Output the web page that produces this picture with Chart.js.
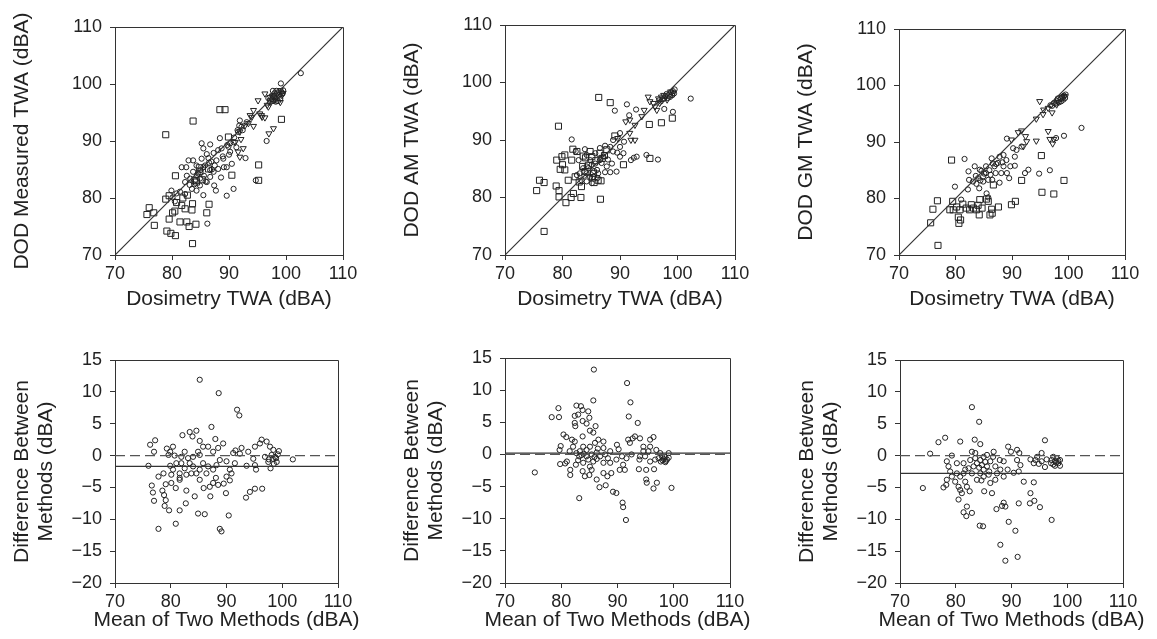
<!DOCTYPE html>
<html>
<head>
<meta charset="utf-8">
<script src="https://cdn.jsdelivr.net/npm/chart.js@4.4.1/dist/chart.umd.min.js"></script>
<style>
  html, body { margin: 0; padding: 0; background: #fff; }
  #wrap { position: relative; width: 1157px; height: 639px; overflow: hidden; }
</style>
</head>
<body>
<div id="wrap"></div>
<script>
// ===== Data =====
const twaTicks = [70, 80, 90, 100, 110];
const diffTicks = [-20, -15, -10, -5, 0, 5, 10, 15];
const meanDiff = [-1.7, 0.2, -2.8];   // solid bias lines, bottom row

const xTitleTop = 'Dosimetry TWA (dBA)';
const xTitleBottom = 'Mean of Two Methods (dBA)';
const yTitlesTop = ['DOD Measured TWA (dBA)', 'DOD AM TWA (dBA)', 'DOD GM TWA (dBA)'];
const yTitleBottom = ['Difference Between', 'Methods (dBA)'];

// top-left: DOD measured vs dosimetry
const p1Circles = [
  [102.6,101.9],[99.1,100.1],[97.7,98.8],[96.6,90.0],[94.7,83.1],[92.9,87.0],[90.8,81.6],[89.6,80.4],
  [86.2,75.5],[87.7,81.3],[85.2,89.6],[86.7,89.4],[88.4,90.5],[83.7,86.6],[82.9,86.6],[82.5,85.4],
  [81.7,85.4],[82.3,82.8],[79.9,81.3],[80.1,80.1],[82.3,80.7],[84.9,82.2],[85.5,80.5],[87.4,82.2],
  [88.6,83.6],[89.6,85.4],[90.5,86.0],[89.0,86.9],[87.8,86.6],[87.3,87.9],[86.1,87.7],[85.2,86.9],
  [84.3,85.7],[85.8,85.7],[86.7,84.9],[88.1,85.1],[88.7,88.7],[89.9,89.0],[90.8,89.8],[91.6,91.6],
  [92.2,92.5],[90.2,88.1],[89.1,85.4],[87.3,84.6],[84.9,83.4],[84.0,83.1],[83.5,81.6],[84.3,81.3],
  [86.1,82.8],[86.7,83.7],[83.2,83.4],[81.4,81.1],[80.5,79.4],[80.8,80.8],[91.3,88.9],[91.9,93.6],
  [93.1,93.3],[88.1,88.4],[87.5,85.7],[85.5,85.4],[84.6,84.3],[83.7,84.6],[85.5,88.7],[91.5,91.9],
  [91.8,92.7],[92.4,91.9],[90.9,90.6],[90.2,89.6],[89.7,89.3],[97.5,97.3],[97.9,97.8],[98.2,96.9],
  [98.5,97.6],[98.8,98.1],[99.2,98.6],[99.4,98.3],[98.0,98.4],[97.2,96.8],[98.6,97.0],[99.0,97.4],
  [97.7,97.0],[96.9,97.5],[98.3,98.8],[99.5,98.9],[86.5,86.2],[87.0,85.0],[85.0,84.9],[83.9,82.4],
  [82.6,83.9],[88.9,87.3],[90.0,87.6],[86.4,87.0],[84.4,84.0],[85.6,83.9],[86.9,86.4],[83.1,82.3],
  [85.9,82.9]
];
const p1Squares = [
  [75.6,77.1],[76.0,78.3],[76.8,77.4],[76.9,75.2],[78.9,91.1],[78.9,79.8],[79.1,74.2],[79.5,80.4],
  [79.5,76.3],[79.8,73.8],[80.1,77.4],[80.6,73.4],[80.6,83.9],[80.5,77.7],[80.8,79.2],[81.4,75.8],
  [81.7,78.7],[81.9,80.0],[82.3,78.1],[82.6,75.8],[83.0,75.0],[82.7,80.5],[83.5,77.9],[83.6,79.0],
  [83.7,93.5],[83.6,72.0],[84.2,75.4],[84.0,83.1],[84.3,82.8],[84.9,84.6],[86.1,77.4],[86.5,78.9],
  [86.4,85.1],[88.4,95.5],[89.3,95.5],[89.9,90.7],[90.5,84.0],[95.2,85.8],[95.2,83.1],[99.2,93.8],
  [84.8,85.3],[85.3,83.2]
];
const p1Triangles = [
  [94.3,95.4],[95.1,97.1],[96.3,98.3],[97.2,97.7],[97.8,98.0],[98.4,98.3],[99.0,98.9],[99.5,98.4],
  [98.1,97.4],[96.9,96.0],[95.7,94.5],[94.3,92.6],[92.8,92.7],[91.9,91.6],[91.1,89.8],[92.5,88.7],
  [91.6,88.1],[91.9,87.2],[97.0,91.3],[97.8,92.2],[93.7,94.5],[99.0,96.8],[95.4,94.8],[97.2,97.1],
  [97.6,97.9],[98.1,97.2],[98.7,98.6],[99.3,98.0],[96.7,96.3],[93.4,93.1],[94.0,94.2],[92.1,90.3],
  [95.8,94.2],[96.3,94.1]
];

// top-middle: DOD AM vs dosimetry
const p2Circles = [
  [102.3,97.2],[99.2,94.9],[97.7,95.4],[96.6,86.6],[94.6,87.4],[92.9,87.1],[92.4,86.9],[91.9,86.5],
  [91.2,96.2],[92.8,95.3],[91.6,94.3],[89.1,95.1],[89.4,84.5],[88.3,84.4],[87.4,84.4],[81.6,90.1],
  [83.9,88.4],[82.3,88.0],[84.8,86.5],[85.7,85.9],[84.5,85.1],[84.2,84.2],[84.8,83.6],[85.1,82.5],
  [86.0,84.8],[86.5,86.5],[86.5,88.6],[87.4,89.0],[88.3,88.8],[88.8,88.0],[90.0,88.8],[90.6,87.7],
  [90.0,87.1],[88.6,85.9],[87.7,85.4],[87.1,87.1],[83.0,84.2],[83.3,83.0],[82.5,83.9],[84.2,82.8],
  [82.8,86.5],[84.2,87.4],[85.7,87.7],[90.7,89.7],[90.0,91.2],[88.8,90.0],[85.4,83.6],[86.2,84.2],
  [84.2,85.4],[85.1,85.7],[83.6,85.1],[97.4,97.1],[97.9,97.6],[98.3,97.3],[98.6,97.9],[98.9,98.3],
  [99.2,98.5],[99.4,98.1],[98.1,98.0],[97.1,96.7],[98.7,97.5],[99.1,97.8],[97.7,97.2],[96.8,96.9],
  [99.5,98.8],[86.8,86.0],[87.9,86.6],[85.5,84.6],[83.8,83.8],[89.5,87.8],[86.1,83.4]
];
const p2Squares = [
  [75.5,81.2],[76.0,83.0],[76.8,82.6],[76.8,74.1],[79.3,92.4],[79.0,86.5],[78.9,82.0],[79.4,81.2],
  [79.4,80.1],[79.9,87.1],[80.4,87.4],[80.0,85.7],[79.6,84.9],[80.4,84.8],[80.6,79.1],[81.0,83.0],
  [81.6,86.5],[81.8,88.4],[81.5,80.0],[81.9,80.7],[82.2,83.6],[82.5,88.0],[83.2,80.0],[83.3,81.9],
  [83.5,85.4],[83.6,87.2],[85.4,84.2],[85.5,82.6],[86.2,83.0],[86.3,97.4],[86.6,79.7],[88.3,96.5],
  [86.5,87.7],[85.1,87.1],[87.7,88.3],[90.6,85.7],[95.1,92.7],[95.2,86.8],[97.2,93.0],[99.1,93.8],
  [89.1,90.7],[84.0,86.9],[84.5,85.6],[85.8,86.4],[86.9,86.8],[83.9,84.5],[85.2,83.4],[86.7,82.9],
  [82.9,82.7],[84.8,88.0],[87.3,87.3]
];
const p2Triangles = [
  [94.9,97.5],[95.2,96.7],[94.2,95.2],[93.8,94.1],[92.6,92.6],[91.7,93.5],[91.0,93.2],[91.7,91.2],
  [92.6,90.0],[91.9,90.0],[95.8,96.4],[96.4,95.2],[96.7,97.2],[97.2,97.5],[89.6,90.3],[96.1,95.8],
  [97.6,97.8],[98.2,97.0],[98.8,98.4],[99.3,98.2],[96.9,96.4]
];

// top-right: DOD GM vs dosimetry
const p3Circles = [
  [102.3,92.5],[99.2,91.1],[97.8,90.7],[96.7,85.0],[94.8,84.4],[92.9,85.1],[92.3,84.5],[90.5,85.8],
  [89.1,90.6],[79.9,82.1],[81.6,87.0],[82.3,84.8],[82.4,83.3],[82.2,81.6],[81.0,79.8],[83.4,85.7],
  [83.6,84.0],[84.3,85.1],[84.2,81.8],[84.9,83.9],[85.4,85.7],[85.8,83.3],[86.2,84.2],[86.4,87.1],
  [86.5,83.3],[87.1,84.5],[87.5,86.3],[87.8,82.8],[88.5,85.7],[88.5,87.7],[89.0,86.8],[89.1,84.5],
  [89.7,85.7],[89.5,83.6],[90.5,87.4],[90.8,88.6],[90.2,88.9],[91.7,89.2],[85.5,80.9],[85.8,80.2],
  [84.9,83.0],[84.0,83.6],[87.8,87.4],[86.9,85.7],[88.1,84.5],[97.4,96.9],[97.9,97.3],[98.3,97.0],
  [98.6,97.6],[98.9,98.0],[99.2,98.2],[99.4,97.8],[98.1,97.7],[97.1,96.4],[98.7,97.2],[99.1,97.5],
  [97.7,96.8],[96.8,96.5],[99.5,98.4],[85.1,84.4],[86.0,85.0],[83.1,83.0],[84.6,84.9],[87.2,86.1],
  [84.4,83.2],[85.4,84.5],[86.6,86.2],[83.7,82.6],[88.3,86.4]
];
const p3Squares = [
  [75.6,75.7],[76.0,78.1],[76.8,79.6],[76.9,71.7],[79.3,86.8],[79.0,78.0],[79.5,79.5],[79.6,78.0],
  [80.2,78.5],[80.5,76.7],[80.6,75.6],[80.9,76.2],[80.8,78.0],[81.3,79.0],[81.9,78.3],[82.5,78.0],
  [82.8,78.9],[83.2,78.3],[83.7,78.0],[84.0,78.8],[84.3,79.8],[84.2,77.1],[84.7,78.3],[85.5,79.9],
  [85.8,79.5],[86.1,77.1],[86.4,78.1],[86.5,77.4],[86.7,82.4],[87.6,78.5],[89.9,78.9],[90.6,79.5],
  [91.7,83.2],[95.2,87.6],[95.3,81.1],[97.4,80.8],[99.2,83.2]
];
const p3Triangles = [
  [94.9,97.2],[95.6,95.7],[94.3,94.1],[95.5,94.9],[97.1,95.2],[96.4,91.9],[96.7,90.5],[97.2,89.7],
  [97.4,90.5],[94.3,90.2],[92.6,90.1],[92.0,89.2],[91.1,91.7],[91.7,92.0],[92.4,91.0],[89.9,90.4],
  [97.9,96.6],[96.4,96.0],[98.2,97.1],[98.8,97.9],[99.3,98.1]
];

// bottom row: difference vs mean (Bland-Altman)
const p4Points = [
  [85.2,11.9],[88.6,9.8],[91.9,7.2],[92.3,6.3],[87.3,4.5],[84.6,3.9],[83.4,3.7],[83.9,3.0],
  [82.1,3.2],[88.0,2.6],[85.2,2.3],[76.3,1.7],[77.2,2.4],[77.0,0.6],[76.0,-1.6],[79.3,1.1],
  [80.4,1.4],[79.9,0.6],[79.6,0.1],[80.7,0.0],[82.5,0.6],[79.9,-1.6],[80.4,-2.2],[77.8,-3.3],
  [78.7,-2.8],[80.1,-3.0],[81.6,-3.5],[76.6,-4.7],[76.8,-5.8],[77.0,-7.1],[78.5,-5.5],[78.8,-6.2],
  [79.1,-7.0],[78.9,-7.9],[79.7,-8.6],[79.1,-4.5],[80.1,-4.3],[80.9,-5.1],[81.6,-3.8],[77.8,-11.5],
  [80.9,-10.7],[81.6,-8.6],[82.7,-7.5],[82.8,-5.5],[84.3,-6.4],[84.9,-9.1],[86.1,-9.2],[88.8,-11.5],
  [89.1,-11.9],[90.4,-9.4],[89.9,-5.9],[87.1,-6.4],[88.5,-4.6],[89.5,-4.4],[90.6,-3.9],[93.5,-6.6],
  [94.2,-5.7],[95.1,-5.2],[96.4,-5.2],[95.3,-2.2],[93.6,-1.6],[95.1,-1.5],[94.8,-0.5],[95.1,1.4],
  [96.0,1.9],[96.3,2.5],[97.2,2.2],[97.8,1.4],[98.4,0.9],[99.4,0.7],[101.9,-0.6],[97.9,-2.0],
  [97.5,-1.0],[96.9,-0.2],[98.7,-0.2],[99.0,-1.0],[98.1,0.1],[91.2,0.4],[91.6,0.8],[92.7,1.2],
  [93.9,0.6],[92.4,0.3],[91.5,-1.2],[90.6,-2.2],[90.9,-2.8],[90.0,-3.3],[89.4,1.9],[88.5,1.2],
  [87.6,0.6],[86.7,1.4],[85.8,1.4],[84.9,0.6],[85.2,0.1],[84.0,-0.2],[83.1,-0.4],[83.4,-1.2],
  [84.0,-1.7],[83.7,-2.8],[84.6,-2.8],[85.2,-2.2],[85.8,-1.2],[86.7,-1.7],[86.4,-2.8],[87.6,-2.2],
  [88.2,-1.5],[88.8,-0.7],[90.0,-0.9],[82.5,-2.0],[82.8,-3.0],[85.2,-3.8],[85.9,-5.1],[87.6,-4.3],
  [88.1,-3.5],[87.0,-4.9],[81.9,-1.2],[81.0,-1.2],[81.9,-0.2],[81.6,-2.8],[98.3,-0.5],[98.9,-0.4],
  [97.6,-0.6],[99.2,0.2],[98.5,-1.3]
];
const p5Points = [
  [85.8,13.2],[91.7,11.1],[85.7,8.4],[92.3,8.1],[92.0,5.9],[93.6,4.9],[79.5,7.2],[78.3,5.8],
  [79.6,5.8],[82.7,7.6],[83.5,7.5],[83.8,6.9],[84.8,6.7],[82.4,6.0],[83.0,6.2],[85.0,5.7],
  [84.5,4.8],[83.8,5.2],[82.4,4.9],[82.5,4.4],[86.1,4.4],[85.1,3.7],[85.7,3.4],[83.8,2.8],
  [80.4,3.1],[80.9,2.7],[81.9,2.3],[79.9,1.3],[79.7,0.7],[79.8,-1.5],[80.7,-1.4],[75.3,-2.8],
  [81.0,-1.1],[81.6,-2.4],[81.6,-3.2],[82.6,-1.6],[83.2,-0.3],[83.9,-1.3],[83.8,-2.6],[84.2,-3.4],
  [85.0,-3.2],[85.1,-1.9],[85.4,-2.4],[86.3,-3.9],[86.8,-5.1],[87.9,-4.8],[87.5,-2.9],[88.2,-3.4],
  [88.9,-2.9],[89.2,-5.8],[89.8,-6.0],[90.9,-7.5],[91.0,-8.2],[91.5,-10.2],[83.2,-6.8],[90.4,-2.4],
  [91.3,-2.4],[91.0,-1.6],[92.2,1.8],[92.7,2.5],[93.1,2.8],[94.0,2.5],[91.9,2.3],[92.5,0.0],
  [94.0,-0.3],[93.9,-0.8],[93.8,-2.3],[95.1,-2.4],[95.1,-3.9],[95.2,-4.4],[97.0,-4.4],[96.4,-5.3],
  [99.6,-5.2],[96.5,-2.3],[96.4,2.7],[95.8,2.3],[94.6,1.2],[95.8,1.2],[95.5,0.5],[94.6,0.5],
  [96.9,0.7],[95.8,-1.1],[94.9,-0.3],[97.6,0.2],[97.9,-0.3],[98.2,-0.7],[98.8,-0.8],[99.1,-0.5],
  [98.5,-1.2],[97.7,-1.1],[97.3,-0.6],[96.7,-0.8],[99.1,0.2],[88.7,0.5],[89.9,1.5],[90.2,0.8],
  [90.8,-0.3],[91.6,-0.6],[87.5,1.0],[87.5,2.0],[86.6,2.3],[86.0,1.8],[85.1,1.2],[84.5,0.7],
  [83.9,1.2],[83.3,0.5],[82.7,0.2],[83.6,-0.1],[84.5,-0.3],[85.4,0.0],[86.3,0.3],[86.9,-0.3],
  [87.8,0.0],[88.3,-0.6],[86.3,-0.7],[85.7,-1.1],[87.5,-1.3],[88.7,-1.3],[89.8,-0.8],[82.1,1.2],
  [82.4,2.0],[81.5,0.5],[98.0,-0.9],[98.4,-0.4],[98.6,-1.0],[84.0,0.1],[84.8,-0.8],[85.9,-0.4],
  [86.5,0.9],[83.0,-0.9]
];
const p6Points = [
  [82.9,7.6],[84.2,5.3],[83.4,2.5],[84.4,1.8],[80.8,2.2],[78.1,2.8],[76.9,2.1],[75.4,0.3],
  [74.1,-5.1],[77.8,-5.0],[78.4,-3.8],[78.3,-4.6],[79.3,0.0],[78.4,-0.9],[78.7,-1.7],[79.0,-2.5],
  [79.3,-3.3],[79.9,-4.1],[80.2,-2.8],[80.2,-1.2],[80.5,-4.9],[80.8,-5.4],[81.1,-5.9],[81.7,-4.1],
  [82.0,-4.9],[82.5,-5.6],[80.5,-6.9],[82.0,-8.0],[81.4,-8.9],[81.9,-9.5],[82.9,-9.0],[84.3,-11.0],
  [84.9,-11.1],[85.1,-5.6],[86.5,-5.9],[88.0,-14.0],[88.9,-16.5],[91.1,-15.9],[90.7,-11.8],[89.5,-10.4],
  [91.3,-7.5],[88.6,-7.4],[88.9,-8.0],[88.3,-7.9],[87.3,-8.4],[92.2,-4.1],[93.4,-5.9],[94.0,-4.2],
  [93.3,-7.5],[94.1,-7.1],[95.1,-8.1],[97.2,-10.1],[96.0,2.4],[96.0,-1.8],[95.4,0.4],[94.6,-0.2],
  [94.3,-0.7],[94.0,-1.2],[93.4,-0.6],[94.9,-1.3],[97.5,-0.2],[98.1,-0.4],[98.7,-0.7],[97.8,-0.9],
  [97.2,-0.7],[98.4,-1.2],[98.7,-1.6],[97.8,-1.6],[97.1,-1.2],[96.3,-0.6],[95.4,-0.9],[89.4,1.4],
  [89.9,0.6],[91.0,0.9],[91.4,0.4],[91.0,-0.7],[91.6,-1.5],[91.3,-2.5],[90.4,-2.7],[89.3,-2.2],
  [88.6,-0.9],[87.9,-0.7],[86.8,0.6],[86.7,-0.2],[86.2,-0.9],[85.6,0.1],[85.0,-0.2],[84.4,-0.7],
  [83.5,0.4],[82.9,0.6],[82.6,-0.7],[83.8,-1.2],[84.7,-1.5],[85.0,-2.2],[84.4,-2.8],[83.8,-3.8],
  [85.0,-3.3],[85.9,-3.0],[86.2,-4.3],[87.1,-3.8],[87.4,-2.8],[88.0,-2.2],[88.6,-3.3],[85.6,-1.7],
  [87.1,-1.7],[81.4,-1.2],[81.7,-2.2],[82.9,-2.8],[83.2,-1.7],[81.4,-2.8],[80.8,-3.3],[83.5,-0.4],
  [82.3,-2.0],[98.0,-1.1],[98.4,-0.8],[97.5,-1.4],[84.2,-1.9],[85.3,-1.0],[86.0,-2.5],[84.6,-3.9]
];

// ===== Style =====
const FONT = "'Liberation Sans', Arial, Helvetica, sans-serif";
const INK = '#222';
const AXIS = '#333';

// top and right sides of the plot box, plus the x title (drawn here so it is not squeezed to the plot width)
const framePlugin = {
  id: 'frame',
  afterDraw(chart, args, opts) {
    const { ctx, chartArea: a } = chart;
    ctx.save();
    ctx.strokeStyle = AXIS;
    ctx.lineWidth = 1;
    ctx.beginPath();
    ctx.moveTo(a.left + 0.5, a.top + 0.5);
    ctx.lineTo(a.right + 0.5, a.top + 0.5);
    ctx.lineTo(a.right + 0.5, a.bottom + 0.5);
    ctx.stroke();

    ctx.font = `21px ${FONT}`;
    ctx.fillStyle = INK;
    ctx.textAlign = 'center';
    ctx.textBaseline = 'middle';
    ctx.fillText(opts.xTitle, (a.left + a.right) / 2, opts.xTitleY);
    ctx.restore();
  }
};

function toPoints(list) {
  return list.map(p => ({ x: p[0], y: p[1] }));
}

function markerSet(list, style, radius, rotation) {
  return {
    data: toPoints(list),
    pointStyle: style,
    pointRadius: radius,
    pointRotation: rotation || 0,
    pointBorderWidth: 1,
    borderColor: INK,
    backgroundColor: 'rgba(0,0,0,0)',
    pointHoverRadius: radius,
    showLine: false
  };
}

function lineSet(xs, ys, dash, color) {
  return {
    data: xs.map((x, i) => ({ x, y: ys[i] })),
    showLine: true,
    borderColor: color,
    borderWidth: 1.2,
    borderDash: dash,
    pointRadius: 0,
    pointHoverRadius: 0,
    fill: false
  };
}

function makePanel(p) {
  const [l, t, r, b] = p.plot;
  const rowTop = p.top ? 0 : 320;
  const rowH = p.top ? 320 : 319;
  const left = l - 115;
  const w = r - left + 32;

  const cv = document.createElement('canvas');
  cv.width = w;
  cv.height = rowH;
  cv.style.cssText = `position:absolute;left:${left}px;top:${rowTop}px;width:${w}px;height:${rowH}px`;
  document.getElementById('wrap').appendChild(cv);

  const yTicks = p.top ? twaTicks : diffTicks;
  const xHeight = rowTop + rowH - b;

  new Chart(cv, {
    type: 'scatter',
    data: { datasets: p.datasets },
    options: {
      responsive: false,
      animation: false,
      events: [],
      layout: { padding: { left: 0, top: t - rowTop, right: 32, bottom: 0 } },
      plugins: {
        legend: { display: false },
        tooltip: { enabled: false },
        frame: { xTitle: p.top ? xTitleTop : xTitleBottom, xTitleY: p.top ? 299.5 : 300.5 }
      },
      scales: {
        x: {
          type: 'linear',
          min: twaTicks[0], max: twaTicks[twaTicks.length - 1],
          afterBuildTicks: s => { s.ticks = twaTicks.map(v => ({ value: v })); },
          afterFit: s => { s.height = xHeight; },
          ticks: { color: INK, padding: 3, font: { family: FONT, size: 18 }, maxRotation: 0 },
          grid: { display: true, drawOnChartArea: false, drawTicks: true, tickLength: 5, color: AXIS },
          border: { display: true, color: AXIS, width: 1 },
          title: { display: false }
        },
        y: {
          type: 'linear',
          min: yTicks[0], max: yTicks[yTicks.length - 1],
          afterBuildTicks: s => { s.ticks = yTicks.map(v => ({ value: v })); },
          afterFit: s => { s.width = 115; },
          ticks: {
            color: INK, padding: 8, font: { family: FONT, size: 18 },
            callback: v => String(v).replace('-', '\u2212')
          },
          grid: { display: true, drawOnChartArea: false, drawTicks: true, tickLength: 5, color: AXIS },
          border: { display: true, color: AXIS, width: 1 },
          title: {
            display: true, text: p.yTitle, color: INK,
            font: { family: FONT, size: 21, lineHeight: 1.15 },
            padding: { top: 10, bottom: 0 }
          }
        }
      }
    },
    plugins: [framePlugin]
  });
}

// ===== Panels =====
const xEnds = [twaTicks[0], twaTicks[twaTicks.length - 1]];

function topSets(circles, squares, triangles) {
  return [
    lineSet(xEnds, xEnds, [], '#333'),
    markerSet(circles, 'circle', 2.6),
    markerSet(squares, 'rect', 4.3),
    markerSet(triangles, 'triangle', 3.5, 180)
  ];
}

function bottomSets(points, bias) {
  return [
    lineSet(xEnds, [0, 0], [10, 5], '#555'),
    lineSet(xEnds, [bias, bias], [], '#333'),
    markerSet(points, 'circle', 2.6)
  ];
}

const panels = [
  { top: true,  plot: [115, 27, 343, 255], yTitle: yTitlesTop[0], datasets: topSets(p1Circles, p1Squares, p1Triangles) },
  { top: true,  plot: [505, 25, 735, 255], yTitle: yTitlesTop[1], datasets: topSets(p2Circles, p2Squares, p2Triangles) },
  { top: true,  plot: [899, 29, 1125, 255], yTitle: yTitlesTop[2], datasets: topSets(p3Circles, p3Squares, p3Triangles) },
  { top: false, plot: [115, 360, 338, 583], yTitle: yTitleBottom, datasets: bottomSets(p4Points, meanDiff[0]) },
  { top: false, plot: [505, 358, 730, 583], yTitle: yTitleBottom, datasets: bottomSets(p5Points, meanDiff[1]) },
  { top: false, plot: [900, 360, 1123, 583], yTitle: yTitleBottom, datasets: bottomSets(p6Points, meanDiff[2]) }
];

panels.forEach(makePanel);
</script>
</body>
</html>
